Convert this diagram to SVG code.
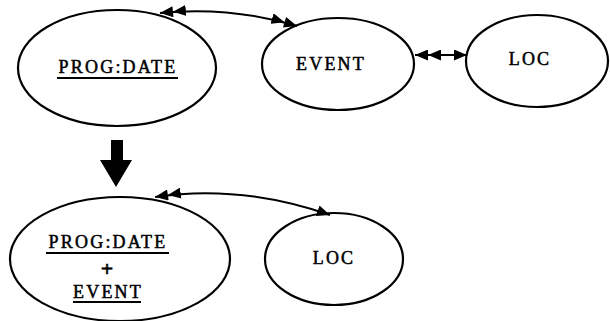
<svg xmlns="http://www.w3.org/2000/svg" width="610" height="321" viewBox="0 0 610 321">
<style>
.n{fill:none;stroke:#000;stroke-width:2.2}
.t{font-family:"Liberation Serif","DejaVu Serif",serif;font-size:18px;fill:#000;stroke:#000;stroke-width:0.5;text-anchor:middle;letter-spacing:2.2px}
.p{font-size:22px;font-weight:bold;letter-spacing:0}
.u{stroke:#000;stroke-width:2}
.c{fill:none;stroke:#000;stroke-width:2}
</style>
<defs>
<marker id="dbl" viewBox="0 0 26 11" refX="26" refY="5.5" markerWidth="26" markerHeight="11" markerUnits="userSpaceOnUse" orient="auto-start-reverse">
<path d="M0,0 L13,5.5 L0,11 z M13,0 L26,5.5 L13,11 z" fill="#000"/>
</marker>
<marker id="sgl" viewBox="0 0 13 11" refX="13" refY="5.5" markerWidth="13" markerHeight="11" markerUnits="userSpaceOnUse" orient="auto-start-reverse">
<path d="M0,0 L13,5.5 L0,11 z" fill="#000"/>
</marker>
</defs>
<g id="connectors">
<path class="c" d="M160,13 Q230,6 297,26" marker-start="url(#dbl)" marker-end="url(#dbl)"/>
<path class="c" d="M415,55 L467,55" marker-start="url(#dbl)" marker-end="url(#sgl)"/>
<path class="c" d="M155,197 Q240,184 330,215" marker-start="url(#dbl)" marker-end="url(#sgl)"/>
<path d="M111,140 L123,140 L123,160 L132,160 L116,187 L100,160 L111,160 z" fill="#000"/>
</g>
<g id="progdate">
<ellipse class="n" cx="117" cy="68" rx="99" ry="58"/>
<text class="t" x="118" y="73">PROG:DATE</text>
<line class="u" x1="57" y1="78" x2="178" y2="78"/>
</g>
<g id="event">
<ellipse class="n" cx="338" cy="64" rx="76" ry="46"/>
<text class="t" x="331" y="70">EVENT</text>
</g>
<g id="loc1">
<ellipse class="n" cx="537" cy="61" rx="71" ry="46"/>
<text class="t" x="530" y="65">LOC</text>
</g>
<g id="merged">
<ellipse class="n" cx="120" cy="259" rx="110" ry="62"/>
<text class="t" x="108" y="248">PROG:DATE</text>
<line class="u" x1="46" y1="253" x2="169" y2="253"/>
<text class="t p" x="107" y="276">+</text>
<text class="t" x="108" y="298">EVENT</text>
<line class="u" x1="73" y1="302" x2="141" y2="302"/>
</g>
<g id="loc2">
<ellipse class="n" cx="334" cy="259" rx="69" ry="46"/>
<text class="t" x="334" y="264">LOC</text>
</g>
</svg>
